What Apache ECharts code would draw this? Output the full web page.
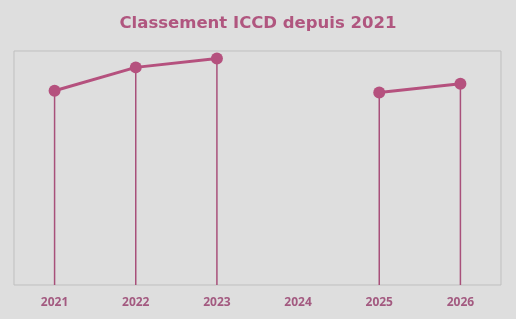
<!DOCTYPE html>
<html>
<head>
<meta charset="utf-8">
<script src="https://cdn.jsdelivr.net/npm/echarts@6/dist/echarts.min.js"></script>
<style>
  html, body { margin: 0; padding: 0; background: #dedede; }
  #chart { width: 516px; height: 319px; }
</style>
</head>
<body>
<div id="chart"></div>
<script>
// données du graphique
var annees = ['2021', '2022', '2023', '2024', '2025', '2026'];
var classement = [83, 93, 96.8, null, 82.3, 86];

var couleur = '#b5517e';

var myChart = echarts.init(document.getElementById('chart'));
myChart.setOption({
  backgroundColor: '#dedede',
  animation: false,
  title: {
    text: 'Classement ICCD depuis 2021',
    left: 'center',
    top: 10,
    textStyle: { fontFamily: 'DejaVu Sans', fontSize: 16.5, fontWeight: 'bold', color: '#b0567f' }
  },
  grid: {
    left: 14, right: 15, top: 51, bottom: 34,
    show: true, borderColor: '#bfbfbf', borderWidth: 1, backgroundColor: 'transparent'
  },
  xAxis: {
    type: 'category',
    data: annees,
    axisLine: { show: false },
    axisTick: { show: false },
    axisLabel: { margin: 12, fontFamily: 'Open Sans', fontSize: 12, fontWeight: 'bold', color: '#a35a80' }
  },
  yAxis: {
    type: 'value',
    min: 0, max: 100,
    show: false
  },
  series: [
    {
      // traits verticaux
      type: 'bar',
      data: classement,
      barWidth: 1.5,
      itemStyle: { color: '#a8507a' },
      z: 1
    },
    {
      type: 'line',
      data: classement,
      connectNulls: false,
      symbol: 'circle',
      symbolSize: 12,
      lineStyle: { color: couleur, width: 3 },
      itemStyle: { color: couleur },
      z: 3
    }
  ]
});
</script>
</body>
</html>
